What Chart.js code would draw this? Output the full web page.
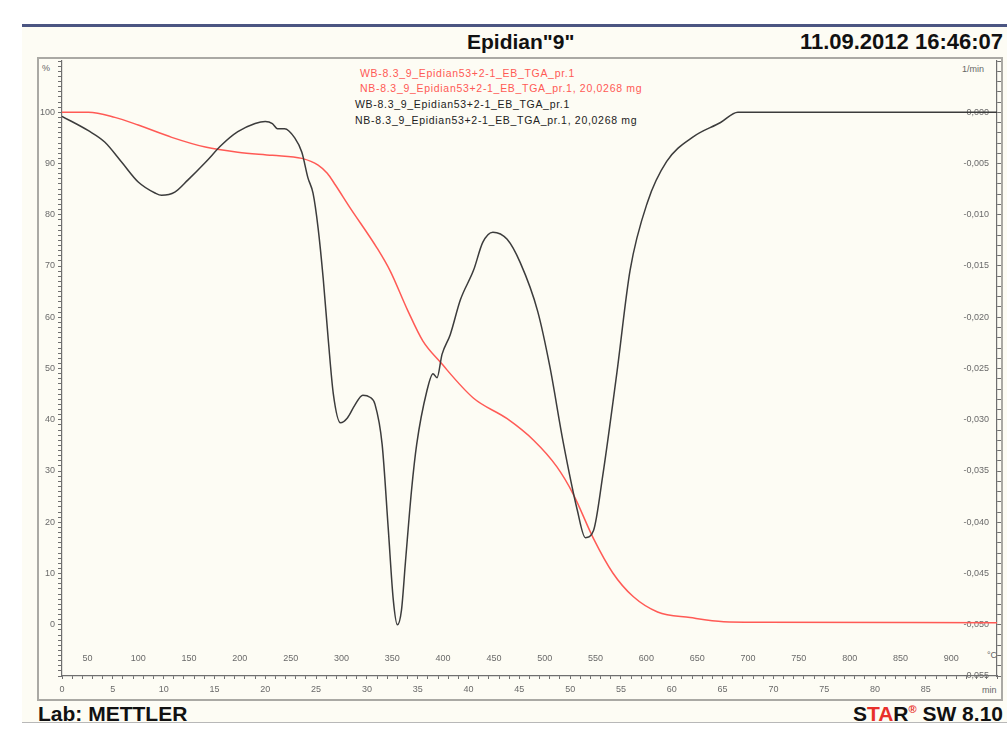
<!DOCTYPE html>
<html lang="en">
<head>
<meta charset="UTF-8">
<title>Epidian 9 TGA</title>
<script src="https://cdn.jsdelivr.net/npm/chart.js@4.4.3/dist/chart.umd.min.js"></script>
<style>
  body { margin: 0; background: #fff; font-family: "Liberation Sans", Arial, sans-serif; }
  .abs { position: absolute; }
  #panel { left: 22px; top: 26px; width: 985px; height: 697px; background: #fdfcf4; }
  #topline { left: 22px; top: 24px; width: 985px; height: 3px; background: #4b5582; }
  #frame { left: 37px; top: 57px; width: 966px; height: 644px; border: 2px solid #aaa9a4; box-sizing: border-box; }
  #footline { left: 22px; top: 722px; width: 985px; height: 1px; background: #b8b8b8; }
  .big { font-size: 21px; line-height: 21px; font-weight: bold; color: #111; white-space: nowrap; }
  .big sup { font-size: 11px; line-height: 0; vertical-align: 0; position: relative; top: -8px; color: #e8302a; }
  .small { font-size: 10.5px; line-height: 10px; letter-spacing: 0.7px; white-space: nowrap; }
  .unit { font-size: 9px; line-height: 10px; color: #666; white-space: nowrap; }
  #wrap { position: absolute; left: 0; top: 0; width: 1007px; height: 747px; }
</style>
</head>
<body>
<div class="abs" id="panel"></div>
<div class="abs" id="topline"></div>
<div class="abs" id="frame"></div>
<div class="abs" id="footline"></div>

<div class="abs big" style="left:467px; top:31px;">Epidian"9"</div>
<div class="abs big" style="right:4px; top:31px; font-size:22px;">11.09.2012 16:46:07</div>
<div class="abs big" style="left:38px; top:703px;">Lab: METTLER</div>
<div class="abs big" style="right:4px; top:703px;">S<span style="color:#e8302a">TA</span>R<sup>®</sup> SW 8.10</div>

<div class="abs small" style="left:360px; top:68px; color:#ff5a55;">WB-8.3_9_Epidian53+2-1_EB_TGA_pr.1</div>
<div class="abs small" style="left:360px; top:83px; color:#ff5a55;">NB-8.3_9_Epidian53+2-1_EB_TGA_pr.1, 20,0268 mg</div>
<div class="abs small" style="left:355px; top:99px; color:#222;">WB-8.3_9_Epidian53+2-1_EB_TGA_pr.1</div>
<div class="abs small" style="left:355px; top:115px; color:#222;">NB-8.3_9_Epidian53+2-1_EB_TGA_pr.1, 20,0268 mg</div>

<div class="abs unit" style="left:42px; top:63px;">%</div>
<div class="abs unit" style="left:962px; top:64px;">1/min</div>
<div class="abs unit" style="left:987px; top:650px;">°C</div>
<div class="abs unit" style="left:982px; top:685px;">min</div>

<div id="wrap"><canvas id="mychart" width="1007" height="747"></canvas></div>

<script>
    // TGA curve (red), mass in % against time in min
    const tgaMin = [0, 2.6, 5.2, 7.5, 10.8, 14.1, 17.3, 20.7, 23.6, 25.2, 26.1, 26.9, 28.3, 31.0, 32.3,
        34.0, 35.5, 37.2, 40.5, 43.8, 46.4, 48.7, 50.3, 52.3, 54.2, 56.2, 58.6, 61.8, 65.1, 68.7, 92.0];
    const tgaPct = [100.0, 100.0, 99.0, 97.5, 95.1, 93.2, 92.2, 91.6, 91.0, 89.7, 88.1, 85.8, 81.5, 73.5, 69.0,
        61.4, 55.4, 51.3, 44.2, 40.2, 36.0, 30.8, 25.5, 16.8, 10.1, 5.5, 2.5, 1.4, 0.6, 0.5, 0.4];

    // DTG curve (black), 1/min against time in min
    const dtgMin = [0, 2.6, 4.2, 5.9, 7.5, 9.2, 9.8, 11.1, 12.4, 14.1, 15.7, 17.3, 19.0, 20.0, 20.7, 21.2,
        21.9, 22.9, 23.6, 24.2, 24.7, 25.2, 25.7, 26.2, 26.7, 27.4, 28.1, 28.8, 29.6, 30.3, 30.8, 31.5,
        32.1, 32.6, 33.0, 33.4, 33.8, 34.4, 34.9, 35.9, 36.5, 36.9, 37.4, 38.2, 39.2, 40.5, 41.4, 42.4,
        43.8, 45.1, 46.8, 48.0, 49.3, 50.7, 51.5, 52.3, 53.2, 54.6, 55.9, 57.6, 59.5, 62.1, 64.8, 66.5, 92.0];
    const dtgVal = [-0.0004, -0.0018, -0.0029, -0.0049, -0.0068, -0.0079, -0.0081, -0.0078, -0.0066, -0.0049,
        -0.0032, -0.0019, -0.0011, -0.0009, -0.0011, -0.0016, -0.0016, -0.0025, -0.0039, -0.0064, -0.0079,
        -0.0113, -0.0162, -0.0222, -0.0275, -0.0303, -0.0298, -0.0286, -0.0276, -0.0278, -0.0285, -0.0324,
        -0.0406, -0.0476, -0.0500, -0.0486, -0.0438, -0.0368, -0.0324, -0.0272, -0.0255, -0.0259, -0.0236,
        -0.0217, -0.0183, -0.0154, -0.0127, -0.0117, -0.0124, -0.0147, -0.0194, -0.0248, -0.0321, -0.0388,
        -0.0415, -0.0408, -0.0355, -0.0254, -0.0154, -0.0088, -0.0048, -0.0024, -0.0010, 0.0, 0.0];

    // tick labels
    const minLabels = [0, 5, 10, 15, 20, 25, 30, 35, 40, 45, 50, 55, 60, 65, 70, 75, 80, 85];
    const tempLabels = [50, 100, 150, 200, 250, 300, 350, 400, 450, 500, 550, 600, 650, 700, 750, 800, 850, 900];
    const pctLabels = [0, 10, 20, 30, 40, 50, 60, 70, 80, 90, 100];
    const dtgLabels = [0, -0.005, -0.010, -0.015, -0.020, -0.025, -0.030, -0.035, -0.040, -0.045, -0.050, -0.055];

    const tickFont = { family: 'Liberation Sans', size: 9 };
    const tickColor = '#6a6a6a';

    var data = {
        datasets: [
            {
                label: 'DTG',
                data: dtgMin.map((t, i) => ({ x: t, y: dtgVal[i] })),
                yAxisID: 'y2',
                borderColor: '#3c3c3c',
                borderWidth: 1.5,
                pointRadius: 0,
                cubicInterpolationMode: 'monotone',
                fill: false
            },
            {
                label: 'TGA',
                data: tgaMin.map((t, i) => ({ x: t, y: tgaPct[i] })),
                yAxisID: 'y',
                borderColor: '#ff5a55',
                borderWidth: 1.5,
                pointRadius: 0,
                cubicInterpolationMode: 'monotone',
                fill: false
            }
        ]
    };

    var config = {
        type: 'line',
        data: data,
        options: {
            responsive: false,
            animation: false,
            layout: { padding: { left: 40, right: 4, top: 61, bottom: 47 } },
            plugins: { legend: { display: false }, tooltip: { enabled: false } },
            scales: {
                x: {
                    type: 'linear', position: 'bottom', min: 0, max: 92,
                    afterFit: (s) => { s.height = 24; },
                    border: { color: '#6f6f6f', width: 1.2 },
                    grid: { drawOnChartArea: false, tickLength: 3, color: '#6f6f6f' },
                    ticks: {
                        stepSize: 1, autoSkip: false, maxRotation: 0, padding: 5,
                        font: tickFont, color: tickColor,
                        callback: (v) => minLabels.includes(v) ? String(v) : ''
                    }
                },
                xT: {
                    type: 'linear', position: { y: -5.6 }, min: 25, max: 945,
                    afterBuildTicks: (s) => { s.ticks = tempLabels.map(v => ({ value: v })); },
                    border: { display: false },
                    grid: { display: false, drawTicks: false },
                    ticks: { autoSkip: false, maxRotation: 0, padding: 0, font: tickFont, color: tickColor }
                },
                y: {
                    type: 'linear', position: 'left', min: -10, max: 110,
                    afterFit: (s) => { s.width = 22; },
                    border: { color: '#6f6f6f', width: 1.2 },
                    grid: { drawOnChartArea: false, tickLength: 4, color: '#6f6f6f' },
                    ticks: {
                        stepSize: 1, autoSkip: false, padding: 3,
                        font: tickFont, color: tickColor,
                        callback: (v) => pctLabels.includes(v) ? String(v) : ''
                    }
                },
                y2: {
                    type: 'linear', position: 'right', min: -0.055, max: 0.005,
                    afterFit: (s) => { s.width = 6; },
                    border: { color: '#6f6f6f', width: 1.2 },
                    grid: { drawOnChartArea: false, tickLength: 4, color: '#6f6f6f' },
                    ticks: {
                        stepSize: 0.001, autoSkip: false, mirror: true, padding: -8,
                        font: tickFont, color: tickColor,
                        callback: (v) => {
                            const hit = dtgLabels.find(t => Math.abs(t - v) < 1e-7);
                            return hit === undefined ? '' : hit.toFixed(3).replace('.', ',');
                        }
                    }
                }
            }
        }
    };

    var mychart = new Chart(document.getElementById('mychart'), config);
</script>
</body>
</html>
